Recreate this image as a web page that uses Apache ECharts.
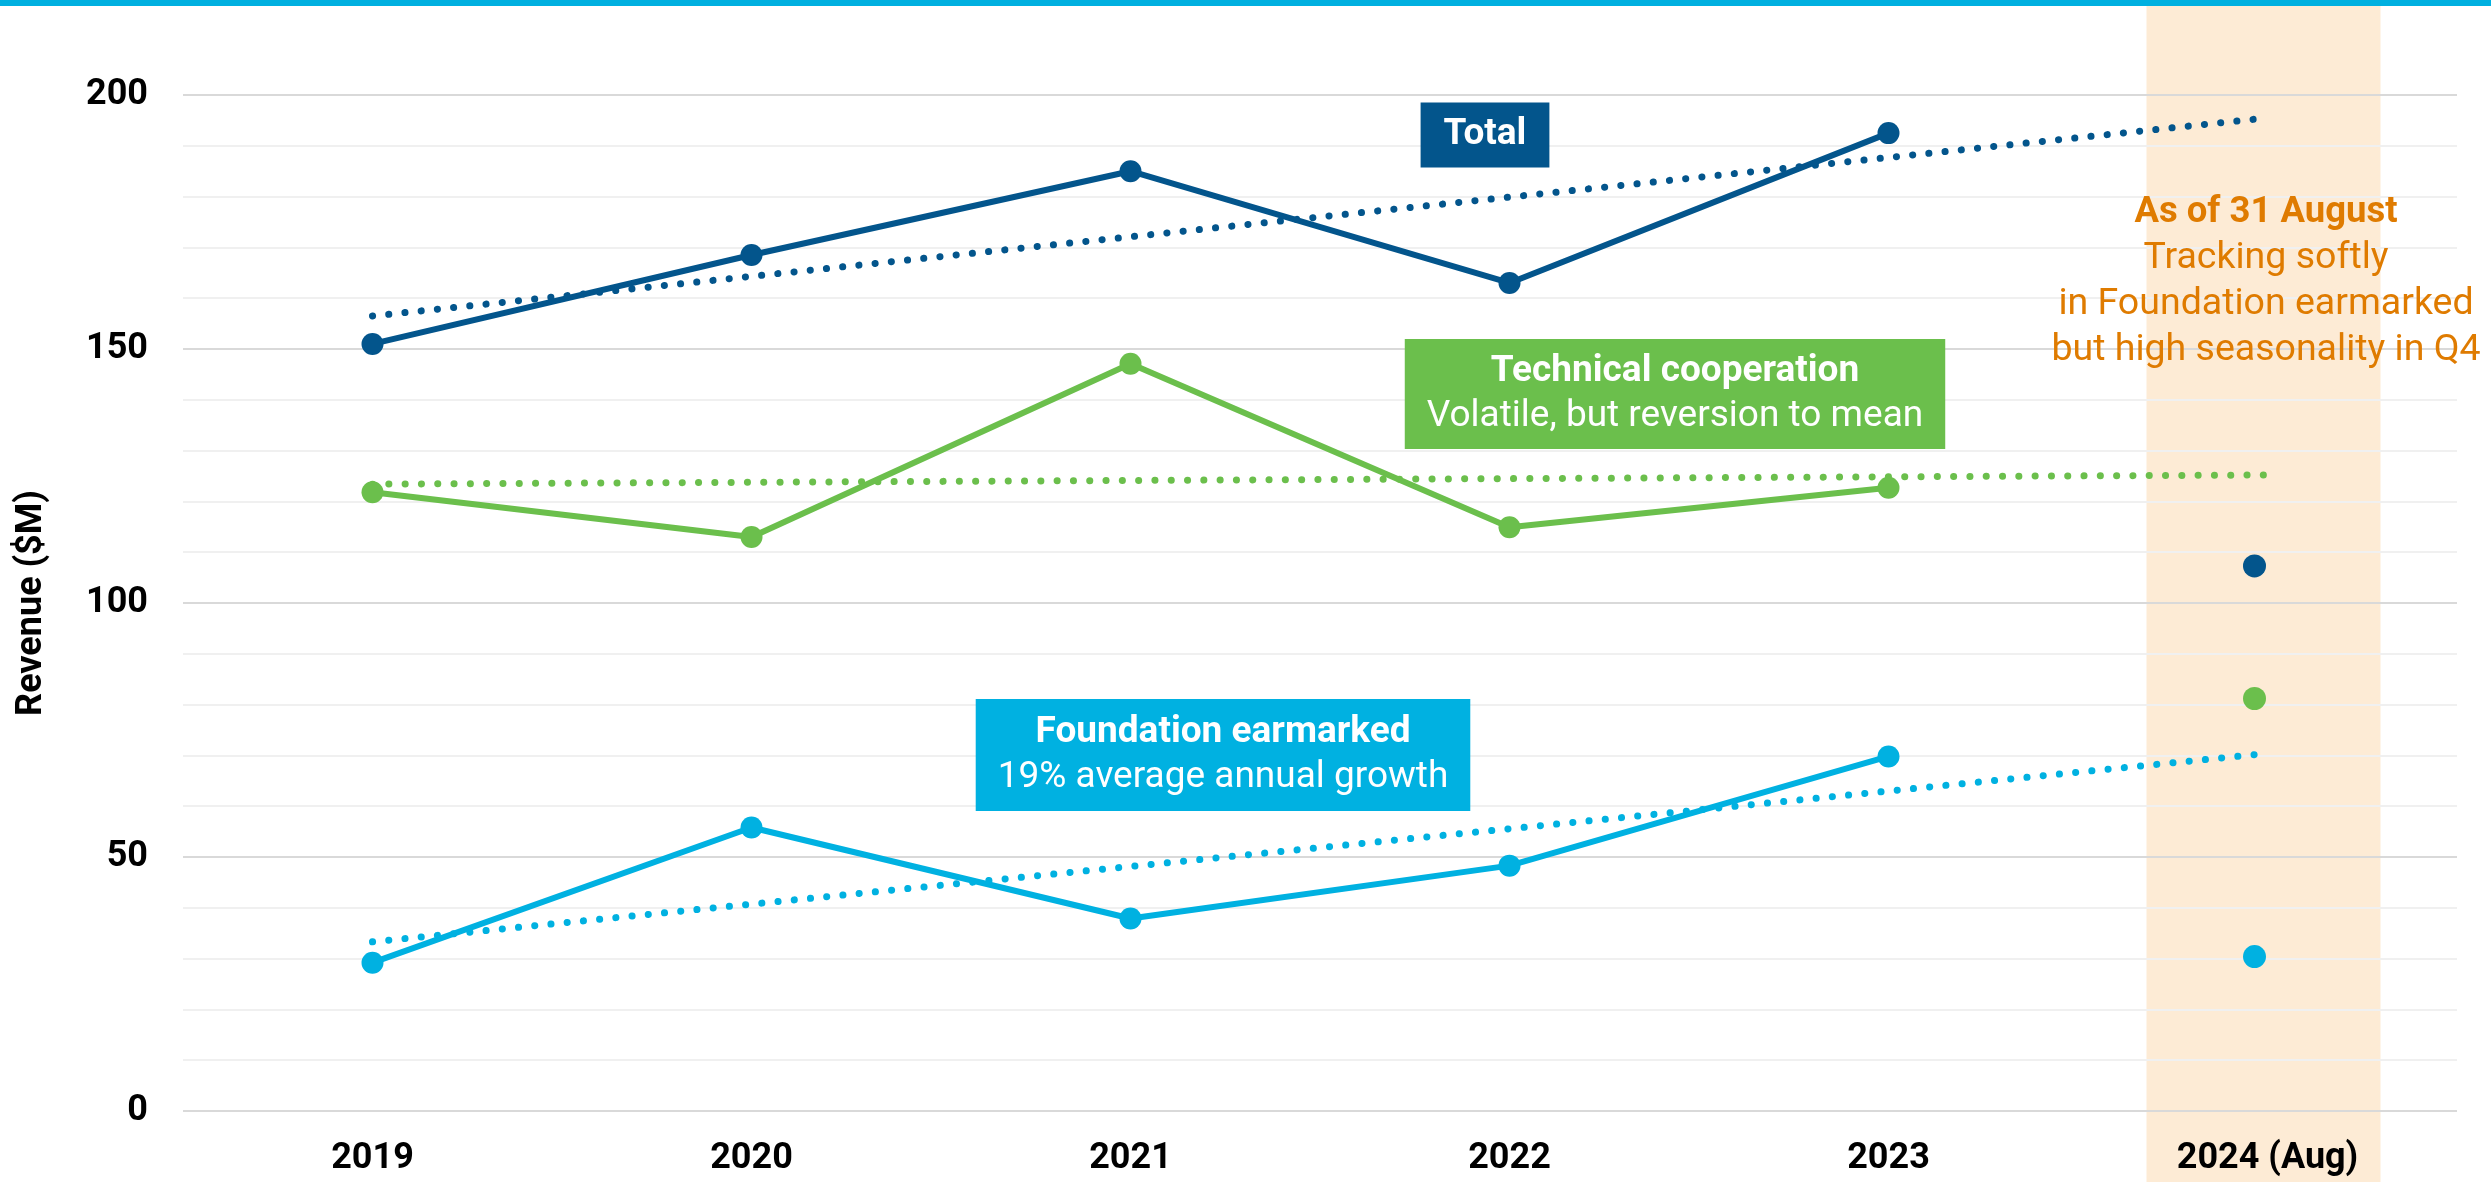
<!DOCTYPE html>
<html>
<head>
<meta charset="utf-8">
<style>
  html, body { margin: 0; padding: 0; background: #fff; }
  #chart { width: 2491px; height: 1182px; }
</style>
<script src="https://cdn.jsdelivr.net/npm/echarts@6/dist/echarts.min.js"></script>
</head>
<body>
<div id="chart"></div>
<script>
// categories
const years = ['2019', '2020', '2021', '2022', '2023', '2024 (Aug)']

// revenue ($M), full years
const total = [151, 168.5, 185, 163, 192.5, null]
const technical = [121.8, 113, 147.1, 114.9, 122.7, null]
const foundation = [29.2, 55.8, 37.9, 48.3, 69.8, null]

// 2024 year to date (as of 31 August)
const totalYtd = [null, null, null, null, null, 107.3]
const technicalYtd = [null, null, null, null, null, 81.2]
const foundationYtd = [null, null, null, null, null, 30.4]

// trend lines, read at both ends
const totalTrend = [156.5, null, null, null, null, 195.5]
const technicalTrend = [123.4, null, null, null, null, 125.2]
const foundationTrend = [33.3, null, null, null, null, 70.4]

const yTicks = [0, 50, 100, 150, 200]

const DARK = '#03558c'
const GREEN = '#6bbf4c'
const LIGHT = '#00b1e1'
const ORANGE = '#df7b00'
const FONT = 'Roboto, "Noto Sans", sans-serif'

const chart = echarts.init(document.getElementById('chart'), null, { renderer: 'canvas' })

function solid(name, data, color) {
  return {
    name: name,
    type: 'line',
    data: data,
    z: 3,
    symbol: 'circle',
    symbolSize: 22,
    showAllSymbol: true,
    itemStyle: { color: color, opacity: 1 },
    lineStyle: { color: color, width: 6 },
    animation: false
  }
}

function ytd(name, data, color) {
  return {
    name: name,
    type: 'scatter',
    data: data,
    z: 3,
    symbol: 'circle',
    symbolSize: 23,
    symbolOffset: [-13, 0],
    itemStyle: { color: color, opacity: 1 },
    animation: false
  }
}

function trend(name, data, color) {
  return {
    name: name,
    type: 'line',
    data: data,
    z: 2,
    connectNulls: true,
    showSymbol: false,
    lineStyle: { color: color, width: 7, type: [0.1, 16.2], cap: 'round' },
    animation: false
  }
}

chart.setOption({
  backgroundColor: '#fff',
  animation: false,
  grid: { left: 183, right: 34, top: 95, bottom: 71 },
  xAxis: {
    type: 'category',
    data: years,
    boundaryGap: true,
    axisLine: { show: false },
    axisTick: { show: false },
    axisLabel: { color: '#000', fontSize: 36, fontWeight: 'bold', fontFamily: FONT, margin: 30 }
  },
  yAxis: {
    type: 'value',
    min: yTicks[0],
    max: yTicks[yTicks.length - 1],
    interval: 50,
    name: 'Revenue ($M)',
    nameLocation: 'middle',
    nameGap: 133,
    nameTextStyle: { color: '#000', fontSize: 36, fontWeight: 'bold', fontFamily: FONT },
    axisLine: { show: false },
    axisTick: { show: false },
    axisLabel: { color: '#000', fontSize: 36, fontWeight: 'bold', fontFamily: FONT, margin: 35 },
    splitLine: { lineStyle: { color: '#d9d9d9', width: 2 } },
    minorTick: { show: false, splitNumber: 5 },
    minorSplitLine: { show: true, lineStyle: { color: '#f0f0f0', width: 2 } }
  },
  series: [
    trend('Total trend', totalTrend, DARK),
    trend('Technical cooperation trend', technicalTrend, GREEN),
    trend('Foundation earmarked trend', foundationTrend, LIGHT),
    solid('Total', total, DARK),
    solid('Technical cooperation', technical, GREEN),
    solid('Foundation earmarked', foundation, LIGHT),
    ytd('Total 2024', totalYtd, DARK),
    ytd('Technical cooperation 2024', technicalYtd, GREEN),
    ytd('Foundation earmarked 2024', foundationYtd, LIGHT)
  ]
})

// shaded column behind the partial year
const bandX = chart.convertToPixel({ xAxisIndex: 0 }, years[5])

function box(text, x, y, bg, pad) {
  return {
    type: 'text',
    x: x,
    y: y,
    z: 100,
    style: {
      text: text,
      align: 'center',
      verticalAlign: 'middle',
      fill: '#fff',
      backgroundColor: bg,
      padding: pad,
      rich: {
        b: { fontFamily: FONT, fontSize: 37, fontWeight: 'bold', lineHeight: 45, fill: '#fff' },
        r: { fontFamily: FONT, fontSize: 37, lineHeight: 45, fill: '#fff' }
      }
    }
  }
}

chart.setOption({
  graphic: [
    {
      type: 'rect',
      z: -10,
      shape: { x: bandX - 121, y: 6, width: 234, height: 1176 },
      style: { fill: '#fdebd5' }
    },
    {
      type: 'rect',
      z: 100,
      shape: { x: 0, y: 0, width: 2491, height: 6 },
      style: { fill: '#00b0e0' }
    },
    box('{b|Total}', 1485, 135, DARK, [10, 23]),
    box('{b|Technical cooperation}\n{r|Volatile, but reversion to mean}', 1675, 394, GREEN, [10, 22]),
    box('{b|Foundation earmarked}\n{r|19% average annual growth}', 1223, 755, LIGHT, [11, 22]),
    {
      type: 'text',
      x: 2266,
      y: 282,
      z: 100,
      style: {
        text: '{b|As of 31 August}\n{r|Tracking softly}\n{r|in Foundation earmarked}\n{r|but high seasonality in Q4}',
        align: 'center',
        verticalAlign: 'middle',
        fill: ORANGE,
        rich: {
          b: { fontFamily: FONT, fontSize: 36.5, fontWeight: 'bold', lineHeight: 46, fill: ORANGE },
          r: { fontFamily: FONT, fontSize: 37.5, lineHeight: 46, fill: ORANGE }
        }
      }
    }
  ]
})
</script>
</body>
</html>
